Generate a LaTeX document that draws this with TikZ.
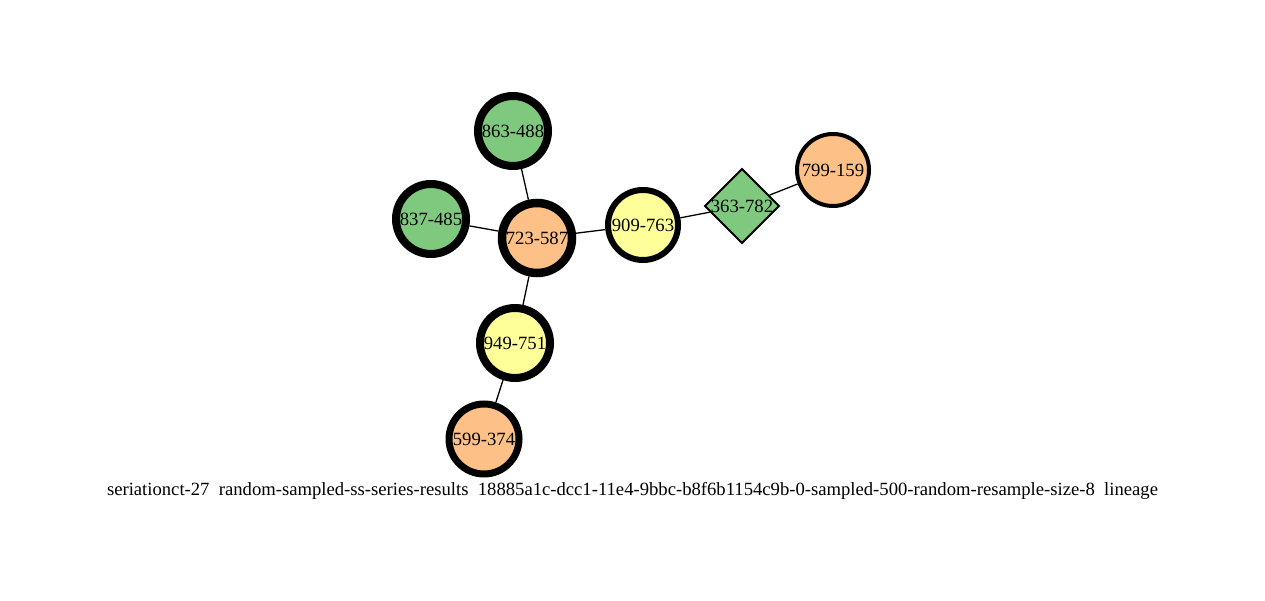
\documentclass[tikz,border=0pt]{standalone}
\usepackage{fontspec}
\setmainfont{Liberation Serif}
\usetikzlibrary{shapes.geometric}
\definecolor{cgreen}{HTML}{7FC97F}
\definecolor{corange}{HTML}{FDC086}
\definecolor{cyellow}{HTML}{FFFF99}
\begin{document}
\begin{tikzpicture}[x=1pt,y=-1pt,
  vtx/.style={circle,draw=black,inner sep=0pt,minimum size=70pt,font=\fontsize{18.7}{20}\selectfont},
  dmd/.style={diamond,draw=black,line width=2pt,inner sep=0pt,minimum width=71pt,minimum height=71pt,font=\fontsize{18.7}{20}\selectfont},
  edge/.style={draw=black,line width=1.3pt}]
\useasboundingbox (0,0) rectangle (1265,601);
\node[vtx,fill=cgreen,line width=8pt] (a) at (513,131) {863-488};
\node[vtx,fill=cgreen,line width=8pt] (b) at (431,219) {837-485};
\node[vtx,fill=corange,line width=8.5pt] (c) at (537,238) {723-587};
\node[vtx,fill=cyellow,line width=6pt,minimum size=70pt] (d) at (643,225) {909-763};
\node[dmd,fill=cgreen] (e) at (742,206) {363-782};
\node[vtx,fill=corange,line width=4pt,minimum size=72pt] (f) at (833,170) {799-159};
\node[vtx,fill=cyellow,line width=8pt] (g) at (515,343) {949-751};
\node[vtx,fill=corange,line width=7pt] (h) at (484,439) {599-374};
\begin{scope}[on background layer/.style={}]
\end{scope}
\draw[edge] (a) -- (c);
\draw[edge] (b) -- (c);
\draw[edge] (c) -- (d);
\draw[edge] (d) -- (e);
\draw[edge] (e) -- (f);
\draw[edge] (c) -- (g);
\draw[edge] (g) -- (h);
\node[inner sep=0pt] (cap) at (632.5,491) {\resizebox{1051pt}{!}{\fontsize{18.7}{20}\selectfont seriationct-27\ \ random-sampled-ss-series-results\ \ 18885a1c-dcc1-11e4-9bbc-b8f6b1154c9b-0-sampled-500-random-resample-size-8\ \ lineage}};
\end{tikzpicture}
\end{document}
